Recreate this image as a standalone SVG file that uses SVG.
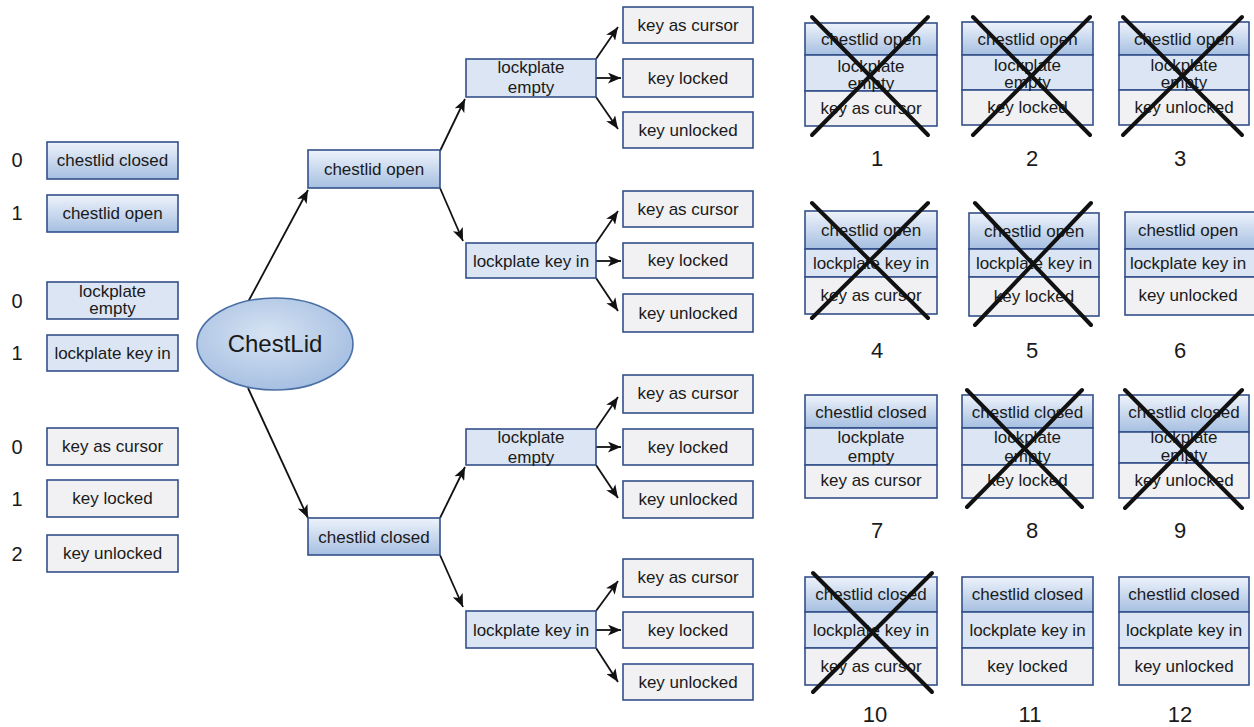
<svg xmlns="http://www.w3.org/2000/svg" width="1254" height="727" viewBox="0 0 1254 727">
<defs>
<linearGradient id="gc" x1="0" y1="0" x2="0" y2="1"><stop offset="0" stop-color="#eef3fb"/><stop offset="1" stop-color="#a6bfe1"/></linearGradient>
<radialGradient id="ge" cx="0.45" cy="0.4" r="0.7"><stop offset="0" stop-color="#d6e3f3"/><stop offset="1" stop-color="#9fbadf"/></radialGradient>
<marker id="ah" viewBox="0 0 12 10" refX="12" refY="5" markerWidth="13" markerHeight="11" markerUnits="userSpaceOnUse" orient="auto"><path d="M0,0 L12,5 L0,10 L3,5 Z" fill="#111"/></marker>
<style>
.c{fill:url(#gc);stroke:#34508a;stroke-width:1.6}
.l{fill:#dbe5f3;stroke:#34508a;stroke-width:1.6}
.k{fill:#f1f1f3;stroke:#34508a;stroke-width:1.6}
text{font-family:"Liberation Sans",Arial,sans-serif;fill:#1a1a1a}
.t{font-size:17px;text-anchor:middle}
.n{font-size:20px;text-anchor:middle}
.g{font-size:22px;text-anchor:middle}
.e{font-size:24px;text-anchor:middle}
.a{stroke:#111;stroke-width:1.8;fill:none;marker-end:url(#ah)}
.x{stroke:#111;stroke-width:4;stroke-linecap:round}
</style>
</defs>
<rect width="1254" height="727" fill="#fff"/>

<!-- legend -->
<g id="legend">
<text class="n" x="17" y="167">0</text>
<text class="n" x="17" y="220">1</text>
<text class="n" x="17" y="308">0</text>
<text class="n" x="17" y="360">1</text>
<text class="n" x="17" y="454">0</text>
<text class="n" x="17" y="506">1</text>
<text class="n" x="17" y="561">2</text>
</g>
<g id="leg-closed"><rect class="c" x="47" y="142" width="131" height="37"/><text class="t" x="112.5" y="166">chestlid closed</text></g>
<g id="leg-open"><rect class="c" x="47" y="195" width="131" height="37"/><text class="t" x="112.5" y="219">chestlid open</text></g>
<g id="leg-empty"><rect class="l" x="47" y="282" width="131" height="37"/><text class="t" x="112.5" y="297">lockplate</text><text class="t" x="112.5" y="314">empty</text></g>
<g id="leg-keyin"><rect class="l" x="47" y="335" width="131" height="36"/><text class="t" x="112.5" y="359">lockplate key in</text></g>
<g id="leg-cursor"><rect class="k" x="47" y="428" width="131" height="37"/><text class="t" x="112.5" y="452">key as cursor</text></g>
<g id="leg-locked"><rect class="k" x="47" y="480" width="131" height="37"/><text class="t" x="112.5" y="504">key locked</text></g>
<g id="leg-unlocked"><rect class="k" x="47" y="535" width="131" height="37"/><text class="t" x="112.5" y="559">key unlocked</text></g>

<!-- connectors -->
<g id="connectors">
<line class="a" x1="248" y1="302" x2="308" y2="190"/>
<line class="a" x1="248" y1="388" x2="308" y2="518"/>
<line class="a" x1="440" y1="151" x2="465" y2="99"/>
<line class="a" x1="440" y1="188" x2="463" y2="241"/>
<line class="a" x1="440" y1="518" x2="465" y2="467"/>
<line class="a" x1="440" y1="555" x2="463" y2="607"/>
<line class="a" x1="596" y1="59" x2="618" y2="27"/>
<line class="a" x1="596" y1="78" x2="621" y2="78"/>
<line class="a" x1="596" y1="97" x2="618" y2="129"/>
<line class="a" x1="596" y1="243" x2="618" y2="211"/>
<line class="a" x1="596" y1="261" x2="621" y2="261"/>
<line class="a" x1="596" y1="278" x2="618" y2="311"/>
<line class="a" x1="596" y1="429" x2="618" y2="397"/>
<line class="a" x1="596" y1="447" x2="621" y2="447"/>
<line class="a" x1="596" y1="465" x2="618" y2="498"/>
<line class="a" x1="596" y1="611" x2="618" y2="581"/>
<line class="a" x1="596" y1="630" x2="621" y2="630"/>
<line class="a" x1="596" y1="648" x2="618" y2="682"/>
</g>

<!-- tree -->
<g id="root"><ellipse cx="275" cy="344" rx="78" ry="46" fill="url(#ge)" stroke="#4a6fa5" stroke-width="1.6"/><text class="e" x="275" y="352">ChestLid</text></g>
<g id="t-open"><rect class="c" x="308" y="150" width="132" height="38"/><text class="t" x="374" y="175">chestlid open</text></g>
<g id="t-closed"><rect class="c" x="308" y="518" width="132" height="37"/><text class="t" x="374" y="543">chestlid closed</text></g>
<g id="t-o-empty"><rect class="l" x="466" y="59" width="130" height="38"/><text class="t" x="531" y="73">lockplate</text><text class="t" x="531" y="93">empty</text></g>
<g id="t-o-keyin"><rect class="l" x="466" y="243" width="130" height="35"/><text class="t" x="531" y="267">lockplate key in</text></g>
<g id="t-c-empty"><rect class="l" x="466" y="429" width="130" height="36"/><text class="t" x="531" y="443">lockplate</text><text class="t" x="531" y="463">empty</text></g>
<g id="t-c-keyin"><rect class="l" x="466" y="611" width="130" height="37"/><text class="t" x="531" y="636">lockplate key in</text></g>

<g id="leaf1"><rect class="k" x="623" y="7" width="130" height="36"/><text class="t" x="688" y="31">key as cursor</text></g>
<g id="leaf2"><rect class="k" x="623" y="59" width="130" height="38"/><text class="t" x="688" y="84">key locked</text></g>
<g id="leaf3"><rect class="k" x="623" y="112" width="130" height="36"/><text class="t" x="688" y="136">key unlocked</text></g>
<g id="leaf4"><rect class="k" x="623" y="191" width="130" height="36"/><text class="t" x="688" y="215">key as cursor</text></g>
<g id="leaf5"><rect class="k" x="623" y="243" width="130" height="35"/><text class="t" x="688" y="266">key locked</text></g>
<g id="leaf6"><rect class="k" x="623" y="294" width="130" height="38"/><text class="t" x="688" y="319">key unlocked</text></g>
<g id="leaf7"><rect class="k" x="623" y="375" width="130" height="38"/><text class="t" x="688" y="399">key as cursor</text></g>
<g id="leaf8"><rect class="k" x="623" y="429" width="130" height="36"/><text class="t" x="688" y="453">key locked</text></g>
<g id="leaf9"><rect class="k" x="623" y="481" width="130" height="37"/><text class="t" x="688" y="505">key unlocked</text></g>
<g id="leaf10"><rect class="k" x="623" y="559" width="130" height="38"/><text class="t" x="688" y="583">key as cursor</text></g>
<g id="leaf11"><rect class="k" x="623" y="612" width="130" height="36"/><text class="t" x="688" y="636">key locked</text></g>
<g id="leaf12"><rect class="k" x="623" y="664" width="130" height="36"/><text class="t" x="688" y="688">key unlocked</text></g>

<!-- grid row 1 -->
<g id="card1">
<rect class="c" x="805" y="23" width="132" height="32"/><rect class="l" x="805" y="55" width="132" height="36"/><rect class="k" x="805" y="91" width="132" height="35"/>
<text class="t" x="871" y="45">chestlid open</text><text class="t" x="871" y="72">lockplate</text><text class="t" x="871" y="89">empty</text><text class="t" x="871" y="114">key as cursor</text>
<line class="x" x1="812" y1="17" x2="928" y2="135"/><line class="x" x1="928" y1="17" x2="812" y2="135"/>
<text class="g" x="877" y="166">1</text></g>
<g id="card2">
<rect class="c" x="962" y="22" width="131" height="33"/><rect class="l" x="962" y="55" width="131" height="35"/><rect class="k" x="962" y="90" width="131" height="35"/>
<text class="t" x="1027.5" y="45">chestlid open</text><text class="t" x="1027.5" y="71">lockplate</text><text class="t" x="1027.5" y="88">empty</text><text class="t" x="1027.5" y="113">key locked</text>
<line class="x" x1="973" y1="17" x2="1090" y2="135"/><line class="x" x1="1090" y1="17" x2="973" y2="135"/>
<text class="g" x="1032" y="166">2</text></g>
<g id="card3">
<rect class="c" x="1119" y="22" width="130" height="33"/><rect class="l" x="1119" y="55" width="130" height="35"/><rect class="k" x="1119" y="90" width="130" height="35"/>
<text class="t" x="1184" y="45">chestlid open</text><text class="t" x="1184" y="71">lockplate</text><text class="t" x="1184" y="88">empty</text><text class="t" x="1184" y="113">key unlocked</text>
<line class="x" x1="1123" y1="17" x2="1242" y2="135"/><line class="x" x1="1242" y1="17" x2="1123" y2="135"/>
<text class="g" x="1180" y="166">3</text></g>

<!-- grid row 2 -->
<g id="card4">
<rect class="c" x="805" y="211" width="132" height="38"/><rect class="l" x="805" y="249" width="132" height="28"/><rect class="k" x="805" y="277" width="132" height="37"/>
<text class="t" x="871" y="236">chestlid open</text><text class="t" x="871" y="269">lockplate key in</text><text class="t" x="871" y="301">key as cursor</text>
<line class="x" x1="812" y1="203" x2="928" y2="318"/><line class="x" x1="928" y1="203" x2="812" y2="318"/>
<text class="g" x="877" y="358">4</text></g>
<g id="card5">
<rect class="c" x="969" y="213" width="130" height="36"/><rect class="l" x="969" y="249" width="130" height="28"/><rect class="k" x="969" y="277" width="130" height="39"/>
<text class="t" x="1034" y="237">chestlid open</text><text class="t" x="1034" y="269">lockplate key in</text><text class="t" x="1034" y="302">key locked</text>
<line class="x" x1="975" y1="203" x2="1091" y2="325"/><line class="x" x1="1091" y1="203" x2="975" y2="325"/>
<text class="g" x="1032" y="358">5</text></g>
<g id="card6">
<rect class="c" x="1125" y="212" width="132" height="37"/><rect class="l" x="1125" y="249" width="132" height="28"/><rect class="k" x="1125" y="277" width="132" height="38"/>
<text class="t" x="1188" y="236">chestlid open</text><text class="t" x="1188" y="269">lockplate key in</text><text class="t" x="1188" y="301">key unlocked</text>
<text class="g" x="1180" y="358">6</text></g>

<!-- grid row 3 -->
<g id="card7">
<rect class="c" x="805" y="395" width="132" height="33"/><rect class="l" x="805" y="428" width="132" height="37"/><rect class="k" x="805" y="465" width="132" height="33"/>
<text class="t" x="871" y="418">chestlid closed</text><text class="t" x="871" y="443">lockplate</text><text class="t" x="871" y="462">empty</text><text class="t" x="871" y="486">key as cursor</text>
<text class="g" x="877" y="538">7</text></g>
<g id="card8">
<rect class="c" x="962" y="395" width="131" height="33"/><rect class="l" x="962" y="428" width="131" height="37"/><rect class="k" x="962" y="465" width="131" height="33"/>
<text class="t" x="1027.5" y="418">chestlid closed</text><text class="t" x="1027.5" y="443">lockplate</text><text class="t" x="1027.5" y="462">empty</text><text class="t" x="1027.5" y="486">key locked</text>
<line class="x" x1="967" y1="390" x2="1082" y2="507"/><line class="x" x1="1082" y1="390" x2="967" y2="507"/>
<text class="g" x="1032" y="538">8</text></g>
<g id="card9">
<rect class="c" x="1119" y="395" width="130" height="37"/><rect class="l" x="1119" y="432" width="130" height="31"/><rect class="k" x="1119" y="463" width="130" height="35"/>
<text class="t" x="1184" y="418">chestlid closed</text><text class="t" x="1184" y="443">lockplate</text><text class="t" x="1184" y="461">empty</text><text class="t" x="1184" y="486">key unlocked</text>
<line class="x" x1="1125" y1="390" x2="1242" y2="508"/><line class="x" x1="1242" y1="390" x2="1125" y2="508"/>
<text class="g" x="1180" y="538">9</text></g>

<!-- grid row 4 -->
<g id="card10">
<rect class="c" x="805" y="577" width="132" height="35"/><rect class="l" x="805" y="612" width="132" height="36"/><rect class="k" x="805" y="648" width="132" height="37"/>
<text class="t" x="871" y="600">chestlid closed</text><text class="t" x="871" y="636">lockplate key in</text><text class="t" x="871" y="672">key as cursor</text>
<line class="x" x1="813" y1="573" x2="932" y2="692"/><line class="x" x1="932" y1="573" x2="813" y2="692"/>
<text class="g" x="875" y="722">10</text></g>
<g id="card11">
<rect class="c" x="962" y="577" width="131" height="35"/><rect class="l" x="962" y="612" width="131" height="36"/><rect class="k" x="962" y="648" width="131" height="37"/>
<text class="t" x="1027.5" y="600">chestlid closed</text><text class="t" x="1027.5" y="636">lockplate key in</text><text class="t" x="1027.5" y="672">key locked</text>
<text class="g" x="1030" y="722">11</text></g>
<g id="card12">
<rect class="c" x="1119" y="577" width="130" height="35"/><rect class="l" x="1119" y="612" width="130" height="36"/><rect class="k" x="1119" y="648" width="130" height="37"/>
<text class="t" x="1184" y="600">chestlid closed</text><text class="t" x="1184" y="636">lockplate key in</text><text class="t" x="1184" y="672">key unlocked</text>
<text class="g" x="1180" y="722">12</text></g>
</svg>
